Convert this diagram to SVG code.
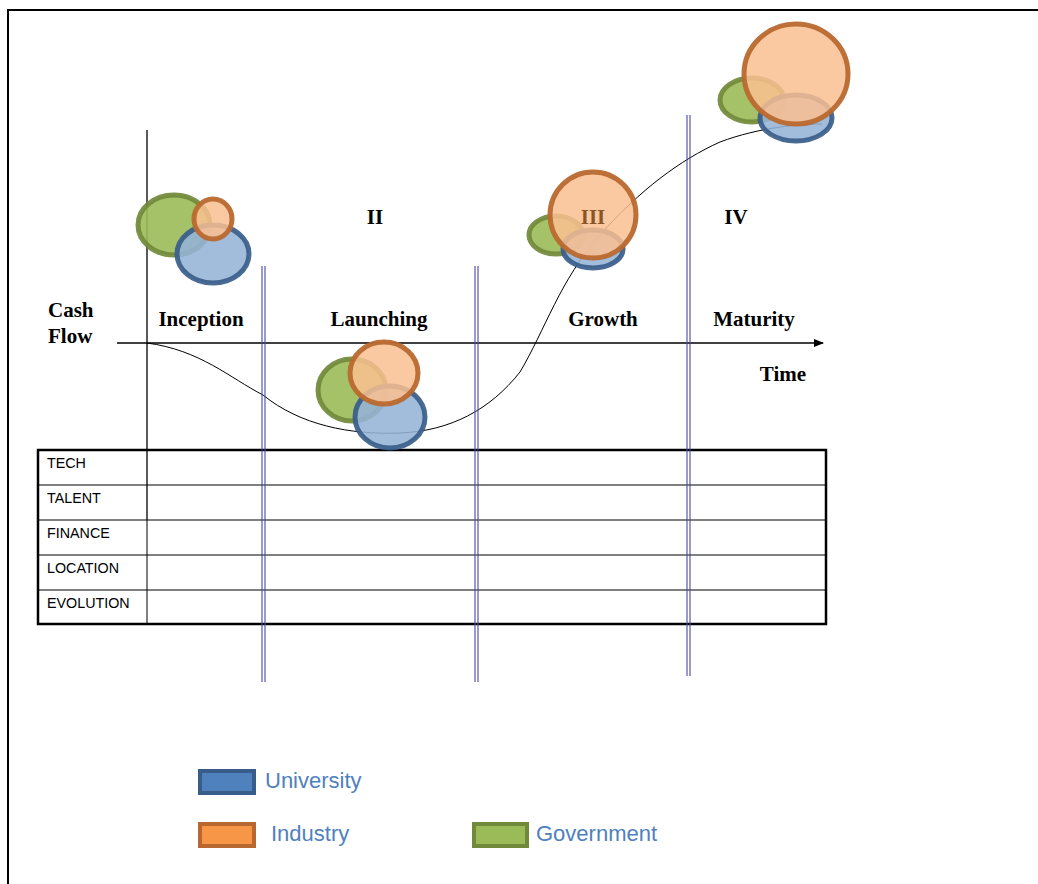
<svg xmlns="http://www.w3.org/2000/svg" width="1038" height="884" viewBox="0 0 1038 884">
<style>
.lbl{font-family:"Liberation Serif","Times New Roman",serif;font-weight:bold;font-size:21px;fill:#000}
.row{font-family:"Liberation Sans",Arial,sans-serif;font-size:14.3px;fill:#000}
.leg{font-family:"Liberation Sans",Arial,sans-serif;font-size:22px;fill:#4F81BD}
.g{fill:#9BBB59;stroke:#71893A;stroke-width:5;fill-opacity:0.9;stroke-opacity:0.92}
.u{fill:#95B3D7;stroke:#385D8A;stroke-width:5;fill-opacity:0.88;stroke-opacity:0.92}
.i{fill:#FAC090;stroke:#B9692F;stroke-width:5;fill-opacity:0.85;stroke-opacity:0.95}
.div{stroke:#4848A8;stroke-width:1.1;fill:none}
.thin{stroke:#000;stroke-width:1;fill:none}
</style>
<defs>
<marker id="arr" markerWidth="10" markerHeight="8" refX="9" refY="4" orient="auto" markerUnits="userSpaceOnUse">
<path d="M0,0 L10,4 L0,8 Z" fill="#000"/>
</marker>
</defs>
<rect width="1038" height="884" fill="#fff"/>
<path d="M8,884 V10 H1038" fill="none" stroke="#000" stroke-width="2"/>

<g id="axes">
<line x1="147" y1="130" x2="147" y2="520" stroke="#000" stroke-width="1.3"/>
<line x1="117" y1="343" x2="823" y2="343" stroke="#000" stroke-width="1.3" marker-end="url(#arr)"/>
</g>

<g id="connectors">
<path class="thin" stroke-width="1.3" d="M147,343 C200,350 230,378 263,395 C300,425 350,435 400,433 C450,431 490,410 520,372 C545,330 560,280 600,235 C640,190 680,160 720,142 C760,127 800,124 822,124"/>
</g>

<g id="table">
<rect x="38" y="450" width="788" height="174" fill="none" stroke="#000" stroke-width="2.5"/>
<line class="thin" x1="38" y1="485" x2="826" y2="485"/>
<line class="thin" x1="38" y1="520" x2="826" y2="520"/>
<line class="thin" x1="38" y1="555" x2="826" y2="555"/>
<line class="thin" x1="38" y1="590" x2="826" y2="590"/>
<line class="thin" x1="147" y1="520" x2="147" y2="624"/>
<text class="row" x="47" y="468">TECH</text>
<text class="row" x="47" y="503">TALENT</text>
<text class="row" x="47" y="538">FINANCE</text>
<text class="row" x="47" y="573">LOCATION</text>
<text class="row" x="47" y="608">EVOLUTION</text>
</g>

<g id="dividers">
<line class="div" x1="262" y1="266" x2="262" y2="682"/>
<line class="div" x1="265" y1="266" x2="265" y2="682"/>
<line class="div" x1="475" y1="266" x2="475" y2="682"/>
<line class="div" x1="478" y1="266" x2="478" y2="682"/>
<line class="div" x1="687" y1="115" x2="687" y2="676"/>
<line class="div" x1="690" y1="115" x2="690" y2="676"/>
</g>

<g id="labels">
<text class="lbl" x="48" y="317">Cash</text>
<text class="lbl" x="48" y="343">Flow</text>
<text class="lbl" x="201" y="326" text-anchor="middle">Inception</text>
<text class="lbl" x="379" y="326" text-anchor="middle">Launching</text>
<text class="lbl" x="603" y="326" text-anchor="middle">Growth</text>
<text class="lbl" x="754" y="326" text-anchor="middle">Maturity</text>
<text class="lbl" x="783" y="381" text-anchor="middle">Time</text>
<text class="lbl" x="375" y="224" text-anchor="middle">II</text>
<text class="lbl" x="736" y="224" text-anchor="middle">IV</text>
</g>

<g id="stage-inception">
<ellipse class="g" cx="174" cy="225" rx="36" ry="30"/>
<ellipse class="u" cx="213" cy="254" rx="36" ry="29"/>
<ellipse class="i" cx="213" cy="219" rx="19" ry="20"/>
</g>
<g id="stage-launching">
<ellipse class="g" cx="352" cy="390" rx="34" ry="31"/>
<ellipse class="u" cx="390" cy="417" rx="35" ry="31"/>
<ellipse class="i" cx="384" cy="373" rx="34" ry="31"/>
</g>
<g id="stage-growth">
<ellipse class="g" cx="556" cy="235" rx="27" ry="19"/>
<ellipse class="u" cx="593" cy="249" rx="30" ry="19"/>
<ellipse class="i" cx="593" cy="215" rx="43" ry="43"/>
<text class="lbl" x="593" y="224" text-anchor="middle" fill="#8A5528" style="fill:#8A5528">III</text>
</g>
<g id="stage-maturity">
<ellipse class="g" cx="752" cy="100" rx="32" ry="22"/>
<ellipse class="u" cx="796" cy="118" rx="36" ry="23"/>
<ellipse class="i" cx="796" cy="74" rx="52" ry="50"/>
</g>

<g id="legend">
<rect x="200" y="771" width="54" height="22" fill="#4F81BD" stroke="#385D8A" stroke-width="4"/>
<text class="leg" x="265" y="788">University</text>
<rect x="200" y="824" width="54" height="22" fill="#F79646" stroke="#B7672F" stroke-width="4"/>
<text class="leg" x="271" y="841">Industry</text>
<rect x="474" y="824" width="53" height="22" fill="#9BBB59" stroke="#71893A" stroke-width="4"/>
<text class="leg" x="536" y="841">Government</text>
</g>
</svg>
